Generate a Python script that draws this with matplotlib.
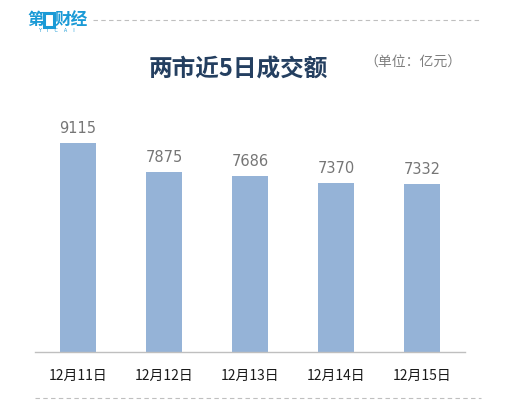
import matplotlib.pyplot as plt
from matplotlib.patches import Rectangle
from matplotlib.lines import Line2D

plt.rcParams['font.family'] = ['Noto Sans CJK SC', 'DejaVu Sans']

dates = ["12月11日", "12月12日", "12月13日", "12月14日", "12月15日"]
turnover = [9115, 7875, 7686, 7370, 7332]

W, H = 507, 416
fig = plt.figure(figsize=(W / 100, H / 100), dpi=100)

ax = fig.add_axes([35 / W, (H - 352) / H, 430 / W, 252 / H])
x = list(range(len(dates)))
ax.bar(x, turnover, width=0.41, color="#95B3D7")
for xi, v in zip(x, turnover):
    ax.text(xi, v + 300, str(v), ha="center", va="bottom", fontsize=10.5, color="#767676",
            family="DejaVu Sans")
ax.set_xlim(-0.5, len(dates) - 0.5)
ax.set_ylim(0, 11000)
ax.set_xticks(x)
ax.set_xticklabels(dates, fontsize=10, color="#1a1a1a")
ax.tick_params(axis="x", length=0, pad=12)
ax.set_yticks([])
for side in ["top", "right", "left"]:
    ax.spines[side].set_visible(False)
ax.spines["bottom"].set_color("#BFBFBF")
ax.spines["bottom"].set_linewidth(1)

# title and unit
fig.text(238 / W, 1 - 70 / H, "两市近5日成交额", ha="center", va="center",
         fontsize=17, fontweight="bold", color="#243F60")
fig.text(413 / W, 1 - 63 / H, "（单位：亿元）", ha="center", va="center",
         fontsize=10, color="#7F7F7F")

# logo
blue = "#1A9AD6"
fig.text(27 / W, 1 - 20 / H, "第", ha="left", va="center", fontsize=12,
         fontweight="bold", color=blue)
fig.patches.append(Rectangle((44 / W, 1 - 27 / H), 10 / W, 14 / H, transform=fig.transFigure,
                             facecolor="none", edgecolor=blue, linewidth=2.2))
fig.text(55 / W, 1 - 20 / H, "财经", ha="left", va="center", fontsize=12,
         fontweight="bold", color=blue)
fig.text(56 / W, 1 - 31 / H, "Y    I    C    A    I", ha="center", va="center",
         fontsize=3.5, color=blue, family="DejaVu Sans")

# dashed separators
fig.lines.append(Line2D([93 / W, 481 / W], [1 - 20 / H, 1 - 20 / H], transform=fig.transFigure,
                        color="#BFBFBF", linewidth=0.8, linestyle=(0, (4, 3))))
fig.lines.append(Line2D([35 / W, 481 / W], [1 - 398 / H, 1 - 398 / H], transform=fig.transFigure,
                        color="#BFBFBF", linewidth=0.8, linestyle=(0, (4, 3))))

fig.savefig("out.png", dpi=100)
